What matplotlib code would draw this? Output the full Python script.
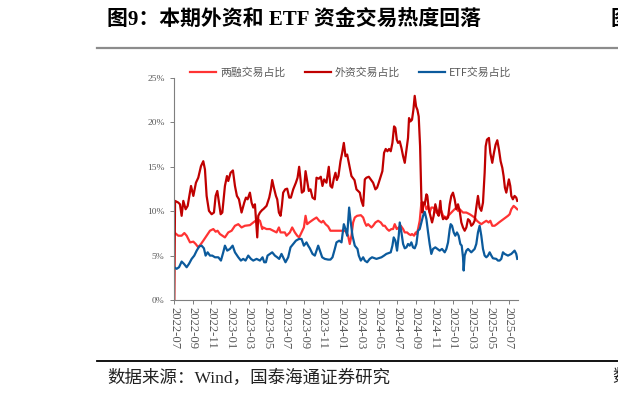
import matplotlib
matplotlib.use("Agg")
import matplotlib.pyplot as plt
from matplotlib.lines import Line2D

# ---------------- data (time in months since 2022-07) ----------------
tick_labels = ["2022-07", "2022-09", "2022-11", "2023-01", "2023-03", "2023-05",
               "2023-07", "2023-09", "2023-11", "2024-01", "2024-03", "2024-05",
               "2024-07", "2024-09", "2024-11", "2025-01", "2025-03", "2025-05",
               "2025-07"]
tick_months = [0, 2, 4, 6, 8, 10, 12, 14, 16, 18, 20, 22, 24, 26, 28, 30, 32, 34, 36]

series_names = ["两融交易占比", "外资交易占比", "ETF交易占比"]

t_lr = [0.00, 0.43, 0.79, 1.08, 1.33, 1.69, 2.05, 2.30, 2.58, 2.87,
        3.12, 3.48, 3.84, 4.20, 4.45, 4.66, 4.91, 5.17, 5.45, 5.81,
        6.17, 6.53, 6.89, 7.24, 7.60, 8.14, 8.50, 8.75, 8.96, 9.22,
        9.47, 9.57, 9.93, 10.29, 10.65, 11.01, 11.26, 11.44, 11.90, 12.08,
        12.44, 12.69, 12.98, 13.23, 13.44, 13.70, 13.95, 14.13, 14.30, 14.52,
        14.77, 15.02, 15.31, 15.60, 15.85, 16.02, 16.28, 16.56, 16.81, 17.28,
        17.82, 18.35, 18.53, 18.71, 18.89, 19.07, 19.25, 19.43, 19.68, 20.08,
        20.33, 20.51, 20.68, 20.86, 21.22, 21.40, 21.65, 21.94, 22.23, 22.48,
        22.66, 22.91, 23.12, 23.37, 23.55, 23.73, 23.95, 24.16, 24.38, 24.63,
        24.81, 25.06, 25.24, 25.45, 25.59, 25.81, 25.99, 26.10, 26.24, 26.42,
        26.60, 26.78, 26.96, 27.14, 27.32, 27.49, 27.67, 27.85, 28.03, 28.21,
        28.39, 28.57, 28.75, 28.93, 29.29, 29.65, 30.00, 30.36, 30.54, 30.72,
        31.08, 31.44, 31.80, 32.05, 32.33, 32.58, 32.80, 33.05, 33.30, 33.59,
        33.84, 34.02, 34.23, 34.48, 34.73, 34.95, 35.20, 35.45, 35.67, 35.92,
        36.10, 36.28, 36.53, 36.74, 36.92]
v_lr = [7.61, 7.24, 7.24, 7.54, 7.24, 6.49, 6.57, 6.31, 5.93, 6.31,
        6.68, 7.24, 7.80, 7.99, 7.69, 7.80, 7.43, 7.24, 7.05, 7.61,
        7.80, 8.36, 8.54, 8.17, 8.36, 8.43, 8.73, 8.92, 9.10, 8.92,
        7.99, 8.17, 7.99, 7.99, 7.80, 7.61, 8.17, 7.61, 7.61, 7.24,
        7.61, 8.17, 7.61, 7.24, 7.05, 7.61, 8.17, 9.48, 8.54, 8.73,
        8.92, 9.10, 9.29, 8.92, 8.73, 8.92, 8.54, 8.28, 7.80, 7.80,
        7.80, 7.80, 7.61, 7.24, 6.31, 7.24, 8.73, 9.29, 9.48, 9.55,
        9.29, 8.73, 8.36, 8.54, 8.17, 8.36, 8.73, 8.92, 8.73, 8.36,
        8.36, 7.99, 7.80, 7.99, 7.99, 8.54, 7.99, 8.17, 8.36, 7.99,
        7.61, 7.61, 7.43, 7.31, 7.43, 7.24, 7.61, 7.43, 7.99, 8.92,
        10.97, 10.97, 10.78, 10.22, 10.60, 9.85, 10.41, 10.41, 10.22, 9.85,
        9.66, 10.22, 10.04, 9.48, 9.29, 9.66, 10.04, 10.41, 10.04, 10.22,
        9.85, 9.85, 9.66, 9.48, 9.29, 8.92, 8.73, 8.54, 8.73, 8.92,
        8.73, 8.92, 8.36, 8.36, 8.54, 8.73, 8.92, 9.10, 9.29, 9.48,
        9.66, 10.22, 10.60, 10.41, 10.22]

t_wz = [0.00, 0.08, 0.43, 0.61, 0.79, 0.97, 1.22, 1.44, 1.80, 2.05,
        2.33, 2.58, 2.87, 3.12, 3.30, 3.48, 3.73, 4.02, 4.27, 4.45,
        4.63, 4.81, 4.99, 5.17, 5.45, 5.67, 5.81, 6.06, 6.31, 6.53,
        6.74, 6.96, 7.24, 7.53, 7.71, 7.89, 8.14, 8.32, 8.50, 8.68,
        8.86, 8.93, 9.04, 9.22, 9.47, 9.57, 9.93, 10.22, 10.40, 10.54,
        10.72, 10.94, 11.08, 11.26, 11.44, 11.58, 11.72, 11.94, 12.15, 12.37,
        12.55, 12.80, 13.09, 13.27, 13.44, 13.59, 13.73, 13.95, 14.13, 14.31,
        14.48, 14.66, 14.88, 15.13, 15.31, 15.56, 15.77, 15.95, 16.13, 16.38,
        16.63, 16.81, 16.99, 17.17, 17.35, 17.50, 17.67, 17.89, 18.07, 18.25,
        18.43, 18.61, 18.82, 19.07, 19.40, 19.61, 19.79, 19.97, 20.15, 20.33,
        20.51, 20.68, 20.94, 21.15, 21.40, 21.65, 21.83, 22.01, 22.23, 22.40,
        22.58, 22.76, 22.94, 23.12, 23.30, 23.48, 23.66, 23.80, 23.95, 24.09,
        24.27, 24.45, 24.63, 24.81, 24.99, 25.16, 25.27, 25.42, 25.59, 25.74,
        25.88, 26.03, 26.17, 26.31, 26.46, 26.60, 26.71, 26.81, 26.96, 27.14,
        27.24, 27.39, 27.57, 27.75, 27.92, 28.10, 28.32, 28.46, 28.64, 28.75,
        28.93, 29.11, 29.29, 29.47, 29.65, 29.82, 30.00, 30.18, 30.36, 30.54,
        30.72, 30.90, 31.08, 31.26, 31.44, 31.62, 31.80, 31.97, 32.15, 32.33,
        32.51, 32.69, 32.87, 33.05, 33.23, 33.41, 33.52, 33.66, 33.87, 34.02,
        34.23, 34.41, 34.59, 34.77, 34.95, 35.13, 35.31, 35.45, 35.59, 35.74,
        35.88, 36.02, 36.17, 36.28, 36.45, 36.63, 36.81, 36.92]
v_wz = [0.00, 11.16, 10.97, 10.78, 9.48, 11.16, 10.22, 10.60, 12.84, 11.72,
        13.21, 13.77, 15.07, 15.63, 14.70, 11.72, 10.04, 9.66, 9.85, 11.72,
        12.28, 10.97, 9.66, 9.85, 12.84, 13.96, 13.40, 14.33, 14.59, 12.84,
        11.72, 11.34, 9.85, 10.97, 11.53, 11.34, 12.09, 10.97, 10.41, 10.78,
        7.99, 7.05, 9.48, 9.85, 10.15, 10.22, 10.60, 11.53, 12.46, 13.51,
        12.65, 11.72, 11.34, 9.85, 9.48, 10.60, 12.09, 12.46, 12.54, 11.53,
        11.53, 12.46, 13.21, 13.77, 15.00, 13.58, 12.09, 12.28, 14.51, 13.40,
        12.28, 12.46, 11.53, 11.34, 13.77, 13.66, 13.88, 12.84, 13.58, 13.21,
        15.00, 12.84, 12.65, 13.66, 14.33, 13.51, 13.96, 15.63, 16.57, 17.69,
        16.19, 16.38, 15.26, 13.96, 13.50, 12.46, 12.28, 12.09, 11.16, 10.60,
        13.58, 13.77, 13.88, 13.58, 13.21, 12.46, 12.65, 13.21, 13.96, 14.51,
        16.57, 17.01, 16.75, 17.01, 16.75, 17.69, 19.55, 19.37, 18.06, 17.69,
        17.87, 17.13, 16.19, 15.45, 16.94, 18.25, 20.49, 20.11, 20.30, 21.42,
        22.99, 21.79, 21.42, 20.67, 17.31, 11.34, 9.85, 10.97, 10.78, 11.90,
        11.72, 10.22, 9.48, 8.73, 9.48, 10.78, 9.85, 9.48, 11.16, 9.80,
        9.10, 9.29, 9.10, 9.29, 10.78, 11.72, 12.09, 11.34, 10.22, 10.78,
        10.04, 8.73, 8.17, 7.80, 8.17, 9.10, 8.92, 8.36, 8.54, 8.92,
        10.41, 11.72, 10.41, 10.04, 10.97, 14.33, 17.31, 18.06, 18.25, 16.57,
        15.45, 16.57, 17.50, 17.99, 16.94, 15.63, 14.89, 13.96, 12.65, 12.09,
        12.84, 13.58, 12.84, 11.72, 11.34, 11.72, 11.53, 11.16]

t_etf = [0.00, 0.25, 0.51, 0.79, 1.04, 1.33, 1.58, 1.87, 2.15, 2.41,
         2.69, 2.94, 3.19, 3.37, 3.59, 3.84, 4.09, 4.38, 4.74, 5.02,
         5.27, 5.45, 5.70, 5.99, 6.28, 6.53, 6.89, 7.17, 7.42, 7.67,
         7.96, 8.25, 8.50, 8.86, 9.22, 9.50, 9.68, 9.86, 10.04, 10.29,
         10.54, 10.83, 11.08, 11.29, 11.54, 11.80, 11.97, 12.26, 12.51, 12.80,
         13.09, 13.41, 13.70, 13.95, 14.23, 14.41, 14.59, 14.88, 15.13, 15.31,
         15.49, 15.67, 15.92, 16.20, 16.56, 16.81, 17.03, 17.28, 17.46, 17.75,
         18.00, 18.25, 18.43, 18.61, 18.82, 19.00, 19.18, 19.43, 19.72, 19.86,
         20.08, 20.33, 20.51, 20.76, 21.04, 21.29, 21.76, 22.30, 22.58, 22.83,
         23.30, 23.48, 23.62, 23.80, 23.98, 24.16, 24.27, 24.45, 24.63, 24.81,
         24.99, 25.16, 25.34, 25.52, 25.70, 25.88, 26.06, 26.24, 26.42, 26.60,
         26.78, 26.96, 27.14, 27.32, 27.49, 27.67, 27.85, 28.10, 28.32, 28.57,
         28.82, 29.11, 29.29, 29.47, 29.65, 29.75, 29.90, 30.08, 30.25, 30.43,
         30.61, 30.79, 30.94, 31.08, 31.15, 31.26, 31.44, 31.62, 31.97, 32.33,
         32.51, 32.69, 32.87, 33.05, 33.23, 33.41, 33.59, 33.77, 33.95, 34.13,
         34.30, 34.66, 34.84, 35.02, 35.20, 35.38, 35.56, 35.92, 36.28, 36.45,
         36.63, 36.81, 36.92]
v_etf = [3.69, 3.51, 3.69, 4.33, 4.07, 3.69, 4.07, 4.63, 5.00, 5.56,
         6.04, 6.12, 5.82, 5.00, 5.37, 5.00, 5.00, 4.81, 4.81, 4.44,
         5.37, 6.12, 5.56, 5.75, 6.12, 5.37, 4.81, 4.44, 4.63, 4.44,
         5.00, 4.63, 4.44, 4.63, 4.44, 4.81, 4.25, 4.25, 5.00, 5.19,
         5.37, 5.00, 4.81, 4.63, 5.19, 4.63, 4.25, 4.81, 5.93, 6.31,
         6.68, 6.87, 6.87, 6.12, 6.49, 6.12, 5.82, 5.19, 5.00, 5.56,
         6.12, 5.56, 4.81, 4.63, 4.55, 4.55, 4.81, 5.75, 6.49, 6.68,
         6.49, 8.54, 7.99, 7.24, 10.41, 8.73, 7.24, 6.12, 5.75, 5.00,
         4.44, 4.81, 4.44, 4.25, 4.63, 4.81, 4.63, 4.81, 5.00, 5.19,
         5.37, 6.12, 7.05, 6.68, 5.56, 7.24, 8.73, 7.61, 6.31, 5.82,
         5.93, 6.31, 6.12, 6.49, 5.93, 5.82, 6.31, 7.80, 7.99, 8.73,
         9.48, 9.93, 9.10, 7.61, 6.31, 5.19, 5.75, 5.93, 5.75, 5.56,
         5.75, 5.37, 5.75, 6.49, 7.99, 8.54, 8.36, 7.61, 7.24, 7.61,
         7.24, 6.31, 6.12, 4.81, 3.32, 5.00, 5.56, 5.75, 5.37, 5.75,
         6.31, 7.61, 8.36, 7.24, 5.75, 5.00, 4.81, 5.00, 5.37, 5.00,
         4.70, 4.63, 4.44, 4.44, 4.63, 5.37, 5.19, 5.00, 5.19, 5.37,
         5.56, 5.19, 4.63]

y_ticks = [0, 5, 10, 15, 20, 25]

# ---------------- figure ----------------
W, H = 618, 398
fig = plt.figure(figsize=(W / 100, H / 100), dpi=100)
fig.patch.set_facecolor("white")

SERIF_CJK = ["Liberation Serif", "Noto Sans CJK SC"]
GRAY = "#595959"

ax = fig.add_axes([174.3 / W, 98 / H, (518 - 174.3) / W, 222 / H])
colors = ["#FF3333", "#C00000", "#0B5A9C"]
ax.plot(t_lr, v_lr, color=colors[0], lw=1.6, label=series_names[0])
ax.plot(t_wz, v_wz, color=colors[1], lw=1.6, label=series_names[1])
ax.plot(t_etf, v_etf, color=colors[2], lw=1.6, label=series_names[2])

ax.set_xlim(0, 37)
ax.set_ylim(0, 25)
ax.set_yticks(y_ticks)
ax.set_yticklabels([f"{v}%" for v in y_ticks], family=SERIF_CJK, fontsize=6.8, color=GRAY)
ax.set_xticks(tick_months)
ax.set_xticklabels(tick_labels, rotation=-90, family=SERIF_CJK, fontsize=9.2,
                   color=GRAY, ha="center", va="top")
ax.tick_params(axis="both", direction="out", length=3, width=0.7, color="#7f7f7f")
ax.tick_params(axis="y", pad=4)
ax.tick_params(axis="x", pad=2)
for s in ["top", "right"]:
    ax.spines[s].set_visible(False)
for s in ["left", "bottom"]:
    ax.spines[s].set_color("#7f7f7f")
    ax.spines[s].set_linewidth(0.8)

leg = fig.legend(loc="center", bbox_to_anchor=(351 / W, 1 - 72.3 / H), ncol=3,
                 frameon=False, prop={"family": ["Noto Sans CJK SC"], "size": 7.8},
                 handlelength=2.4, handletextpad=0.35, columnspacing=1.8)
for txt in leg.get_texts():
    txt.set_color(GRAY)

# title and decorations
fig.text(107 / W, 1 - 20 / H, "图9：本期外资和 ETF 资金交易热度回落",
         family=SERIF_CJK, fontweight="bold", fontsize=15.0, color="black",
         ha="left", va="center")
fig.text(611 / W, 1 - 20 / H, "图", family=SERIF_CJK, fontweight="bold",
         fontsize=15.0, color="black", ha="left", va="center")
fig.add_artist(Line2D([97 / W, 1.0], [1 - 48 / H, 1 - 48 / H], color="#8c8c8c", lw=1.6))
fig.add_artist(Line2D([97 / W, 1.0], [1 - 361 / H, 1 - 361 / H], color="black", lw=1.3))
fig.text(107 / W, 1 - 378 / H, "数据来源：Wind，国泰海通证券研究",
         family=SERIF_CJK, fontsize=12.6, color="#222222", ha="left", va="center")
fig.text(612 / W, 1 - 378 / H, "数", family=SERIF_CJK, fontsize=12.6,
         color="#222222", ha="left", va="center")

fig.savefig("out.png", dpi=100)
